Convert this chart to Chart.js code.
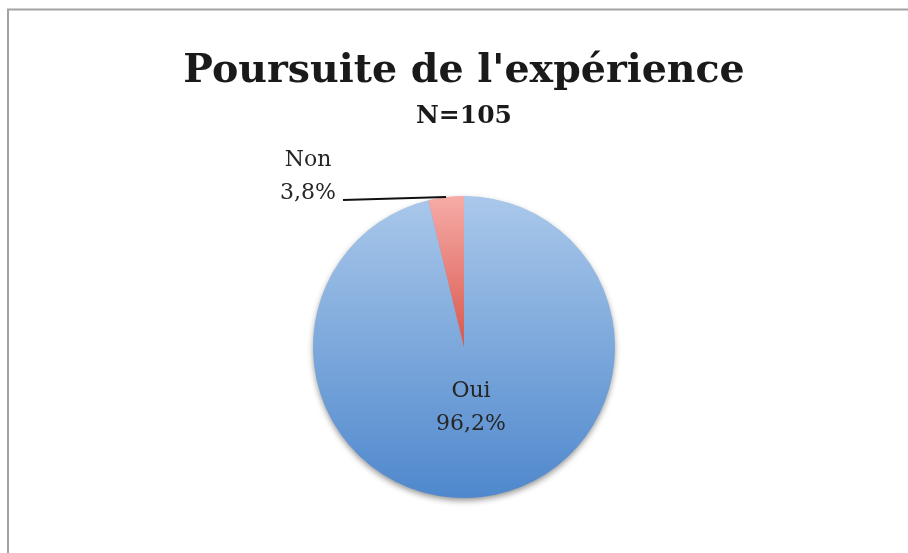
<!DOCTYPE html>
<html>
<head>
<meta charset="utf-8">
<script src="https://cdn.jsdelivr.net/npm/chart.js@4"></script>
<style>
html,body{margin:0;padding:0;background:#fff;}
#wrap{position:relative;width:908px;height:553px;}
canvas{display:block;}
</style>
</head>
<body>
<div id="wrap"><canvas id="c" width="908" height="553"></canvas></div>
<script>
const titleText = "Poursuite de l'expérience";
const subtitleText = "N=105";
const categories = ["Oui", "Non"];
const values = [96.2, 3.8];
const valueLabels = ["96,2%", "3,8%"];
const gradTop = ["#aac8ea", "#f6aba7"];
const gradBottom = ["#4f88cd", "#d9584d"];

function sliceGradient(ctx) {
  const chart = ctx.chart;
  const area = chart.chartArea;
  const i = ctx.dataIndex;
  if (!area) return gradBottom[i];
  const c = chart.ctx;
  const top = area.top;
  const bottom = i === 0 ? area.bottom : (area.top + area.bottom) / 2;
  const g = c.createLinearGradient(0, top, 0, bottom);
  g.addColorStop(0, gradTop[i]);
  g.addColorStop(1, gradBottom[i]);
  return g;
}

const framePlugin = {
  id: 'frame',
  beforeDraw(chart) {
    const c = chart.ctx;
    c.save();
    c.fillStyle = '#ffffff';
    c.fillRect(0, 0, chart.width, chart.height);
    c.strokeStyle = '#a3a3a3';
    c.lineWidth = 2;
    c.strokeRect(8, 9.5, chart.width + 50, chart.height + 50);
    c.restore();
  }
};

const shadowPlugin = {
  id: 'pieShadow',
  beforeDatasetsDraw(chart) {
    const arc = chart.getDatasetMeta(0).data[0];
    if (!arc) return;
    const p = arc.getProps(['x', 'y', 'outerRadius'], true);
    const c = chart.ctx;
    c.save();
    c.shadowColor = 'rgba(0,0,0,0.45)';
    c.shadowBlur = 6;
    c.shadowOffsetY = 3;
    c.fillStyle = '#6f9fd8';
    c.beginPath();
    c.arc(p.x, p.y, p.outerRadius - 0.5, 0, Math.PI * 2);
    c.fill();
    c.restore();
  }
};

const labelPlugin = {
  id: 'sliceLabels',
  afterDatasetsDraw(chart) {
    const meta = chart.getDatasetMeta(0);
    const c = chart.ctx;
    c.save();
    c.font = '22px "DejaVu Serif"';
    c.fillStyle = '#262626';
    c.textAlign = 'center';
    c.textBaseline = 'alphabetic';
    meta.data.forEach((arc, i) => {
      const p = arc.getProps(['x', 'y', 'startAngle', 'endAngle', 'outerRadius'], true);
      const mid = (p.startAngle + p.endAngle) / 2;
      if (i === 0) {
        const lx = p.x + Math.cos(mid) * p.outerRadius * 0.39;
        const ly = p.y + Math.sin(mid) * p.outerRadius * 0.39;
        c.fillText(categories[i], lx, ly - 8);
        c.fillText(valueLabels[i], lx, ly + 25);
      } else {
        const ax = p.x + Math.cos(mid) * p.outerRadius;
        const ay = p.y + Math.sin(mid) * p.outerRadius;
        const ex = ax - 103, ey = ay + 3;
        c.strokeStyle = '#111111';
        c.lineWidth = 2;
        c.beginPath();
        c.moveTo(ax, ay);
        c.lineTo(ex, ey);
        c.stroke();
        const tx = ex - 35;
        c.fillText(categories[i], tx, ey - 34);
        c.fillText(valueLabels[i], tx, ey - 1);
      }
    });
    c.restore();
  }
};

new Chart(document.getElementById('c'), {
  type: 'pie',
  data: {
    labels: categories,
    datasets: [{
      data: values,
      backgroundColor: sliceGradient,
      borderWidth: 0,
      hoverOffset: 0,
      offset: 0,
      radius: 151
    }]
  },
  options: {
    responsive: false,
    animation: false,
    events: [],
    layout: { padding: { left: 20, right: 0, top: 0, bottom: 55 } },
    plugins: {
      legend: { display: false },
      tooltip: { enabled: false },
      title: {
        display: true,
        text: titleText,
        color: '#1a1a1a',
        font: { family: '"DejaVu Serif"', size: 39.5, weight: 'bold', lineHeight: 1.2 },
        padding: { top: 47.6, bottom: 0 }
      },
      subtitle: {
        display: true,
        text: subtitleText,
        color: '#1a1a1a',
        font: { family: '"DejaVu Serif"', size: 25, weight: 'bold', lineHeight: 1.2 },
        padding: { top: 6, bottom: 65 }
      }
    }
  },
  plugins: [framePlugin, shadowPlugin, labelPlugin]
});
</script>
</body>
</html>
